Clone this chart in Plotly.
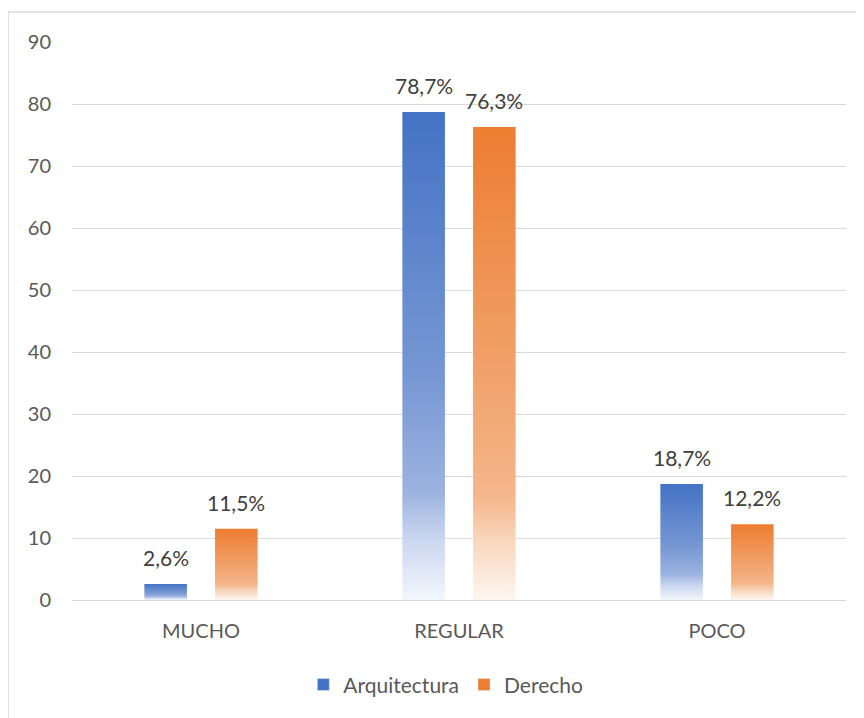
import plotly.graph_objects as go

categories = ["MUCHO", "REGULAR", "POCO"]
series_names = ["Arquitectura", "Derecho"]
arquitectura = [2.6, 78.7, 18.7]
derecho = [11.5, 76.3, 12.2]
labels_arq = ["2,6%", "78,7%", "18,7%"]
labels_der = ["11,5%", "76,3%", "12,2%"]

colors = ["#4472c4", "#ed7d31"]
scales = [
    [[0, "#f3f6fc"], [0.12, "#ccd8f0"], [0.22, "#9cb3e0"], [0.45, "#7898d4"], [1, "#4472c4"]],
    [[0, "#fdf6f0"], [0.12, "#f9d8c0"], [0.22, "#f4b68a"], [0.45, "#f1a46e"], [1, "#ed7d31"]],
]
offsets = [-0.137, 0.137]
width = 0.165

font_family = "Lato, 'Open Sans', sans-serif"
text_color = "#595959"

fig = go.Figure()
all_vals = [arquitectura, derecho]
all_labels = [labels_arq, labels_der]
annotations = []
for i, (vals, labs) in enumerate(zip(all_vals, all_labels)):
    for j, v in enumerate(vals):
        xc = j + offsets[i]
        x0, x1 = xc - width / 2, xc + width / 2
        fig.add_trace(go.Scatter(
            x=[x0, x1, x1, x0, x0], y=[0, 0, v, v, 0],
            fill="toself", mode="none",
            fillgradient=dict(type="vertical", colorscale=scales[i], start=0, stop=v),
            showlegend=False, hoverinfo="skip",
        ))
        annotations.append(dict(
            x=xc, y=v, xref="x", yref="y", text=labs[j], showarrow=False,
            yanchor="bottom", yshift=12,
            font=dict(size=21, color="#404040", family=font_family),
        ))
    # legend entry
    fig.add_trace(go.Bar(
        x=[None], y=[None], name=series_names[i], marker=dict(color=colors[i]),
        showlegend=True,
    ))

fig.update_layout(
    width=864, height=718,
    margin=dict(l=64, r=26, t=34, b=126),
    paper_bgcolor="white", plot_bgcolor="white",
    font=dict(family=font_family, size=20, color=text_color),
    showlegend=True,
    legend=dict(orientation="h", x=0.483, xanchor="center", y=-0.152, yanchor="middle",
                font=dict(size=21, color=text_color), itemclick=False, itemwidth=30),
    xaxis=dict(range=[-0.5, 2.5], tickvals=[0, 1, 2], ticktext=categories,
               showgrid=False, zeroline=False, showline=False, ticks="",
               ticklabelstandoff=17, fixedrange=True),
    yaxis=dict(range=[0, 90], dtick=10, showgrid=True, gridcolor="#d9d9d9", gridwidth=1,
               zeroline=True, zerolinecolor="#d9d9d9", zerolinewidth=1, showline=False,
               ticks="", ticklabelstandoff=20, fixedrange=True),
    annotations=annotations,
    shapes=[dict(type="rect", xref="paper", yref="paper",
                 x0=(0 - 64) / 774, x1=(880 - 64) / 774,
                 y0=-(140) / 558, y1=1 + 30 / 558,
                 line=dict(color="#d9d9d9", width=1.5), fillcolor="rgba(0,0,0,0)", layer="below")],
)

fig.write_html("out.html")
